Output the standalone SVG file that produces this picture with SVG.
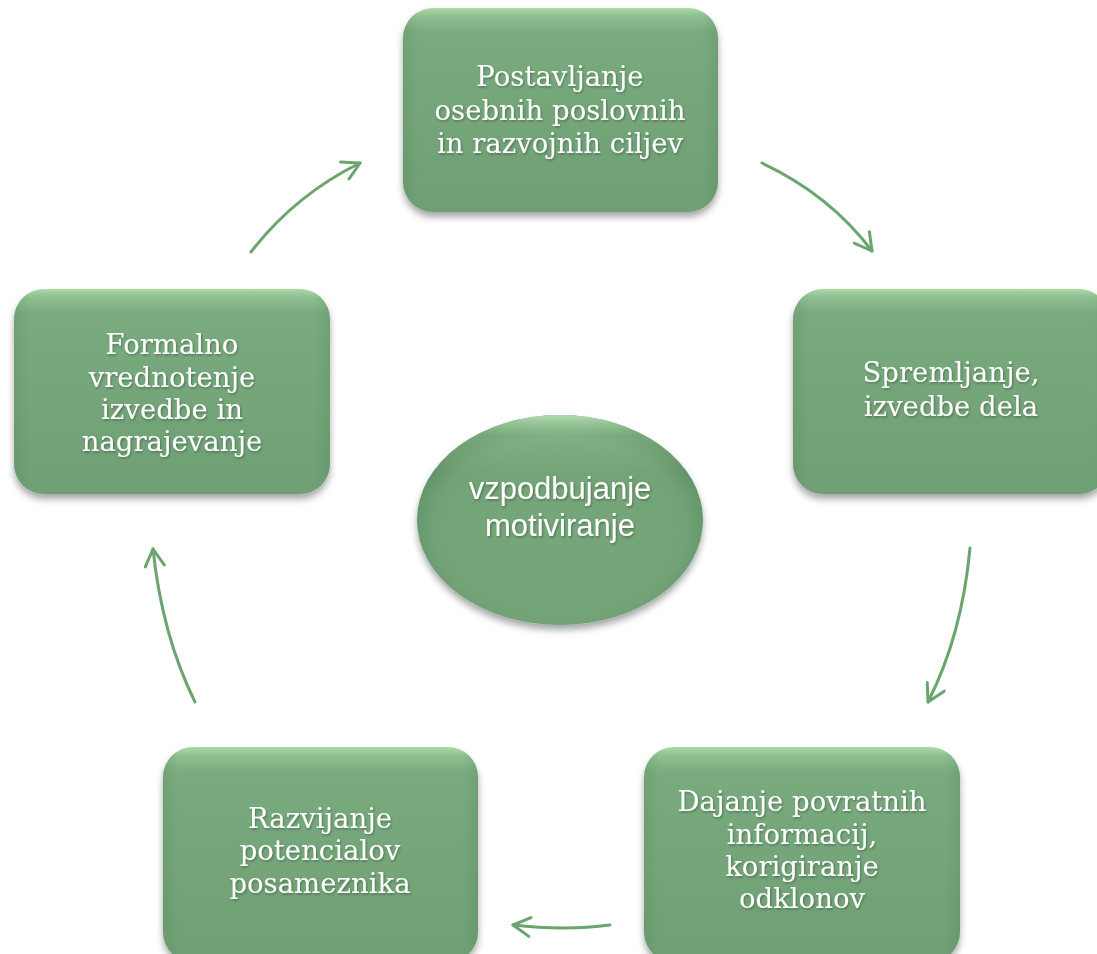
<svg xmlns="http://www.w3.org/2000/svg" width="1097" height="954" viewBox="0 0 1097 954">
<defs>
<linearGradient id="boxFill" x1="0" y1="0" x2="0" y2="1">
<stop offset="0" stop-color="#acdaa9"/>
<stop offset="0.04" stop-color="#8dbf90"/>
<stop offset="0.12" stop-color="#79ab7e"/>
<stop offset="1" stop-color="#6f9f74"/>
</linearGradient>
<linearGradient id="sideShade" x1="0" y1="0" x2="1" y2="0">
<stop offset="0" stop-color="#4f7f55" stop-opacity="0.22"/>
<stop offset="0.05" stop-color="#4f7f55" stop-opacity="0"/>
<stop offset="0.95" stop-color="#4f7f55" stop-opacity="0"/>
<stop offset="1" stop-color="#4f7f55" stop-opacity="0.22"/>
</linearGradient>
<radialGradient id="ellFill" cx="0.5" cy="0.55" r="0.55">
<stop offset="0" stop-color="#76a77b"/>
<stop offset="0.8" stop-color="#72a377"/>
<stop offset="1" stop-color="#5f8f65"/>
</radialGradient>
<linearGradient id="ellTop" x1="0" y1="0" x2="0" y2="1">
<stop offset="0" stop-color="#c0ebbc" stop-opacity="0.85"/>
<stop offset="0.1" stop-color="#a0d2a0" stop-opacity="0.3"/>
<stop offset="0.28" stop-color="#a0d2a0" stop-opacity="0"/>
</linearGradient>
<filter id="shadow" x="-10%" y="-10%" width="120%" height="130%">
<feDropShadow dx="0" dy="5" stdDeviation="3.5" flood-color="#000" flood-opacity="0.35"/>
</filter>
<filter id="tshadow" x="-5%" y="-20%" width="110%" height="140%">
<feDropShadow dx="1" dy="1.5" stdDeviation="1" flood-color="#000" flood-opacity="0.3"/>
</filter>
<marker id="chev" viewBox="0 0 22 22" refX="20" refY="11" markerWidth="22" markerHeight="22" markerUnits="userSpaceOnUse" orient="auto">
<path d="M3,1.5 L20,11 L3,20.5" fill="none" stroke="#6aa56f" stroke-width="3" stroke-linecap="round" stroke-linejoin="round"/>
</marker>
</defs>
<style>
.box{fill:url(#boxFill);filter:url(#shadow);}
.shade{fill:url(#sideShade);}
.lbl{font-family:"DejaVu Serif","Liberation Serif",serif;font-size:27.5px;fill:#ffffff;text-anchor:middle;filter:url(#tshadow);}
.clbl{font-family:"Liberation Sans",Arial,sans-serif;font-size:31px;fill:#ffffff;text-anchor:middle;filter:url(#tshadow);}
.arc{fill:none;stroke:#6aa56f;stroke-width:3;stroke-linecap:round;marker-end:url(#chev);}
</style>
<rect width="1097" height="954" fill="#ffffff"/>

<g id="connectors">
<path class="arc" d="M251,252 Q295,195 360,163"/>
<path class="arc" d="M762,163 Q830,195 872,251"/>
<path class="arc" d="M970,548 Q962,635 928,702"/>
<path class="arc" d="M610,925 Q565,931 513,925"/>
<path class="arc" d="M195,702 Q162,635 153,549"/>
</g>

<g id="node-top">
<rect class="box" x="403" y="8" width="315" height="204" rx="30"/>
<rect class="shade" x="403" y="8" width="315" height="204" rx="30"/>
<text class="lbl" x="560" y="86">Postavljanje</text>
<text class="lbl" x="560" y="120">osebnih poslovnih</text>
<text class="lbl" x="560" y="153">in razvojnih ciljev</text>
</g>

<g id="node-right">
<rect class="box" x="793" y="289" width="316" height="205" rx="30"/>
<rect class="shade" x="793" y="289" width="316" height="205" rx="30"/>
<text class="lbl" x="951" y="382">Spremljanje,</text>
<text class="lbl" x="951" y="416">izvedbe dela</text>
</g>

<g id="node-bottom-right">
<rect class="box" x="644" y="747" width="316" height="215" rx="30"/>
<rect class="shade" x="644" y="747" width="316" height="215" rx="30"/>
<text class="lbl" x="802" y="811">Dajanje povratnih</text>
<text class="lbl" x="802" y="844">informacij,</text>
<text class="lbl" x="802" y="876">korigiranje</text>
<text class="lbl" x="802" y="908">odklonov</text>
</g>

<g id="node-bottom-left">
<rect class="box" x="163" y="747" width="315" height="215" rx="30"/>
<rect class="shade" x="163" y="747" width="315" height="215" rx="30"/>
<text class="lbl" x="320" y="828">Razvijanje</text>
<text class="lbl" x="320" y="860">potencialov</text>
<text class="lbl" x="320" y="893">posameznika</text>
</g>

<g id="node-left">
<rect class="box" x="14" y="289" width="316" height="205" rx="30"/>
<rect class="shade" x="14" y="289" width="316" height="205" rx="30"/>
<text class="lbl" x="172" y="354">Formalno</text>
<text class="lbl" x="172" y="387">vrednotenje</text>
<text class="lbl" x="172" y="419">izvedbe in</text>
<text class="lbl" x="172" y="451">nagrajevanje</text>
</g>

<g id="node-center">
<ellipse cx="560" cy="520" rx="143" ry="105" fill="url(#ellFill)" filter="url(#shadow)"/>
<ellipse cx="560" cy="520" rx="143" ry="105" fill="url(#ellTop)"/>
<text class="clbl" x="560" y="499">vzpodbujanje</text>
<text class="clbl" x="560" y="536">motiviranje</text>
</g>
</svg>
